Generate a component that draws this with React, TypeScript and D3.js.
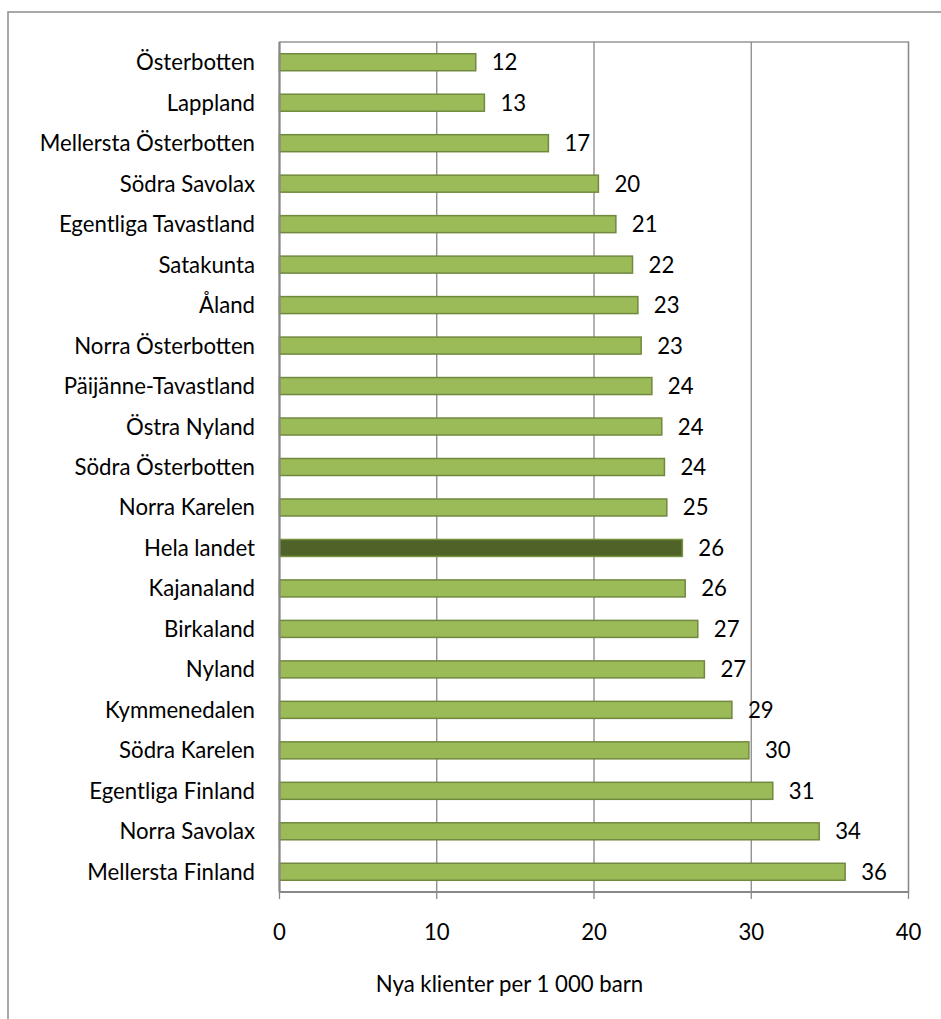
import React from "react";
import * as d3 from "d3";

const categories = [
  "Österbotten",
  "Lappland",
  "Mellersta Österbotten",
  "Södra Savolax",
  "Egentliga Tavastland",
  "Satakunta",
  "Åland",
  "Norra Österbotten",
  "Päijänne-Tavastland",
  "Östra Nyland",
  "Södra Österbotten",
  "Norra Karelen",
  "Hela landet",
  "Kajanaland",
  "Birkaland",
  "Nyland",
  "Kymmenedalen",
  "Södra Karelen",
  "Egentliga Finland",
  "Norra Savolax",
  "Mellersta Finland",
];

const values = [
  12.48, 13.03, 17.1, 20.28, 21.39, 22.45, 22.79, 23.0, 23.68, 24.31, 24.48,
  24.63, 25.62, 25.8, 26.6, 27.02, 28.77, 29.85, 31.37, 34.32, 35.97,
];

const highlight = "Hela landet";
const xTicks = [0, 10, 20, 30, 40];
const xTitle = "Nya klienter per 1 000 barn";

const W = 941;
const H = 1019;
const FONT = "Lato, 'Open Sans', sans-serif";
const FS = 22.2;

export default function App() {
  const left = 279.5;
  const right = 908.5;
  const top = 42;
  const bottom = 892;

  const x = d3.scaleLinear().domain([0, 40]).range([left, right]);
  const y = d3
    .scaleBand<string>()
    .domain(categories)
    .range([top, bottom])
    .paddingInner(0.58)
    .paddingOuter(0.29);

  const grid = "#888888";

  return (
    <svg
      width={W}
      height={H}
      style={{ position: "absolute", left: 0, top: 0, background: "#fff" }}
      fontFamily={FONT}
    >
      <rect x={0} y={0} width={W} height={H} fill="#fff" />
      {/* outer chart border */}
      <rect
        x={8}
        y={12}
        width={W + 20}
        height={H + 20}
        fill="none"
        stroke="#8c8c8c"
        strokeWidth={1.5}
      />
      {/* plot area border */}
      <rect
        x={left}
        y={top}
        width={right - left}
        height={bottom - top}
        fill="none"
        stroke={grid}
        strokeWidth={1.3}
      />
      {/* vertical gridlines */}
      {xTicks.map((t) => (
        <line
          key={"g" + t}
          x1={x(t)}
          x2={x(t)}
          y1={top}
          y2={bottom + 7}
          stroke={grid}
          strokeWidth={1.3}
        />
      ))}
      {/* bars */}
      {categories.map((c, i) => {
        const isH = c === highlight;
        return (
          <rect
            key={c}
            x={x(0)}
            y={y(c)}
            width={x(values[i]) - x(0)}
            height={y.bandwidth()}
            fill={isH ? "#4f6228" : "#9bbb59"}
            stroke={isH ? "#77933c" : "#71893f"}
            strokeWidth={1.5}
          />
        );
      })}
      {/* axes lines */}
      <line x1={left} x2={left} y1={top} y2={bottom} stroke={grid} strokeWidth={2} />
      <line x1={left} x2={right} y1={bottom} y2={bottom} stroke={grid} strokeWidth={2} />
      {/* data labels */}
      {categories.map((c, i) => (
        <text
          key={"l" + c}
          x={x(values[i]) + 16}
          y={(y(c) as number) + y.bandwidth() / 2}
          dy="0.36em"
          fontSize={FS}
          fill="#000"
        >
          {Math.round(values[i])}
        </text>
      ))}
      {/* category labels */}
      {categories.map((c) => (
        <text
          key={"c" + c}
          x={255}
          y={(y(c) as number) + y.bandwidth() / 2}
          dy="0.36em"
          fontSize={FS}
          textAnchor="end"
          fill="#000"
        >
          {c}
        </text>
      ))}
      {/* x tick labels */}
      {xTicks.map((t) => (
        <text
          key={"t" + t}
          x={x(t)}
          y={932}
          dy="0.36em"
          fontSize={FS}
          textAnchor="middle"
          fill="#000"
        >
          {t}
        </text>
      ))}
      <text
        x={(377 + 642) / 2}
        y={984}
        dy="0.36em"
        fontSize={FS}
        textAnchor="middle"
        fill="#000"
      >
        {xTitle}
      </text>
    </svg>
  );
}
